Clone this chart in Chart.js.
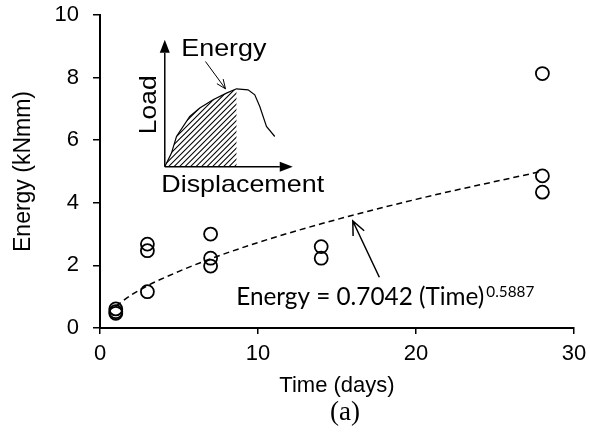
<!DOCTYPE html>
<html>
<head>
<meta charset="utf-8">
<script src="https://cdn.jsdelivr.net/npm/chart.js@4.4.1/dist/chart.umd.min.js"></script>
<style>
  html, body { margin: 0; padding: 0; background: #fff; }
  #wrap { width: 590px; height: 444px; }
</style>
</head>
<body>
<div id="wrap"><canvas id="myChart" width="590" height="444"></canvas></div>
<script>
const timeDays = [1, 1, 1, 3, 3, 3, 7, 7, 7, 14, 14, 28, 28, 28];
const energy = [0.61, 0.52, 0.47, 2.68, 2.47, 1.16, 3.0, 2.23, 1.98, 2.6, 2.23, 8.13, 4.86, 4.34];

// power-law trend line
const trendTime = [1, 2, 3, 5, 7, 10, 14, 20, 28];
const trendEnergy = [0.70, 1.06, 1.35, 1.81, 2.21, 2.73, 3.33, 4.11, 5.01];

const xTicks = [0, 10, 20, 30];
const yTicks = [0, 2, 4, 6, 8, 10];

const eqMain = "Energy = 0.7042 (Time)";
const eqPower = "0.5887";

Chart.defaults.font.family = "'Liberation Sans', Arial, sans-serif";
Chart.defaults.color = "#000";

function openArrow(ctx, x0, y0, x1, y1, len, ang) {
  const a = Math.atan2(y1 - y0, x1 - x0);
  ctx.beginPath();
  ctx.moveTo(x0, y0);
  ctx.lineTo(x1, y1);
  ctx.moveTo(x1 - len * Math.cos(a - ang), y1 - len * Math.sin(a - ang));
  ctx.lineTo(x1, y1);
  ctx.lineTo(x1 - len * Math.cos(a + ang), y1 - len * Math.sin(a + ang));
  ctx.stroke();
}

function filledArrow(ctx, x0, y0, x1, y1, len, half) {
  const a = Math.atan2(y1 - y0, x1 - x0);
  const bx = x1 - len * Math.cos(a), by = y1 - len * Math.sin(a);
  ctx.beginPath();
  ctx.moveTo(x0, y0);
  ctx.lineTo(bx, by);
  ctx.stroke();
  ctx.beginPath();
  ctx.moveTo(x1, y1);
  ctx.lineTo(bx + half * Math.sin(a), by - half * Math.cos(a));
  ctx.lineTo(bx - half * Math.sin(a), by + half * Math.cos(a));
  ctx.closePath();
  ctx.fill();
}

function stretchText(ctx, txt, x, y, sx, rot) {
  ctx.save();
  ctx.translate(x, y);
  if (rot) ctx.rotate(rot);
  ctx.scale(sx, 1);
  ctx.fillText(txt, 0, 0);
  ctx.restore();
}

// sketch of a load-displacement curve, offsets from the inset origin
const sketchCurve = [[0, 0], [6.7, -13.7], [11.7, -30.3], [25, -50.3], [35, -58.7], [48.3, -67],
  [61.7, -73.7], [71.7, -78], [83.3, -77], [90, -72], [95, -60.3], [101.7, -40.3], [110, -30.3]];

const annotations = {
  id: "annotations",
  afterDraw(chart) {
    const ctx = chart.ctx;
    const sx = chart.scales.x, sy = chart.scales.y;
    const X = v => sx.getPixelForValue(v);
    const Y = v => sy.getPixelForValue(v);
    ctx.save();
    ctx.fillStyle = "#000";
    ctx.strokeStyle = "#000";

    // inset
    const ox = X(4.1), oy = Y(5.15);
    ctx.lineWidth = 1.5;
    filledArrow(ctx, ox, oy, ox, oy - 127, 13, 5);
    filledArrow(ctx, ox, oy, ox + 128, oy, 13, 5);

    ctx.lineWidth = 1.2;
    ctx.beginPath();
    sketchCurve.forEach((p, i) => i ? ctx.lineTo(ox + p[0], oy + p[1]) : ctx.moveTo(ox + p[0], oy + p[1]));
    ctx.stroke();

    // hatched area under the curve up to the peak
    ctx.save();
    ctx.beginPath();
    sketchCurve.slice(0, 8).forEach((p, i) => i ? ctx.lineTo(ox + p[0], oy + p[1]) : ctx.moveTo(ox + p[0], oy + p[1]));
    ctx.lineTo(ox + 71.7, oy);
    ctx.closePath();
    ctx.clip();
    ctx.lineWidth = 1.1;
    ctx.beginPath();
    for (let d = -90; d < 90; d += 5.5) {
      ctx.moveTo(ox + d, oy);
      ctx.lineTo(ox + d + 90, oy - 90);
    }
    ctx.stroke();
    ctx.restore();

    ctx.lineWidth = 1;
    openArrow(ctx, ox + 40.7, oy - 105.3, ox + 60.7, oy - 78, 10, 0.4);

    ctx.font = "24px 'Liberation Sans', Arial, sans-serif";
    ctx.textBaseline = "alphabetic";
    ctx.textAlign = "left";
    stretchText(ctx, "Energy", ox + 16.5, oy - 111, 1.12);
    stretchText(ctx, "Displacement", ox - 3.5, oy + 24.7, 1.12);
    ctx.textAlign = "center";
    stretchText(ctx, "Load", ox - 8.5, oy - 62, 1.1, -Math.PI / 2);

    // trend equation and pointer
    ctx.lineWidth = 1.5;
    openArrow(ctx, X(17.68), Y(1.62), X(16.0), Y(3.42), 15, 0.42);

    ctx.textAlign = "left";
    ctx.font = "100px Lato, sans-serif";
    const mainSize = 100 * 248 / ctx.measureText(eqMain).width;
    const powSize = 100 * 48 / ctx.measureText(eqPower).width;
    ctx.font = mainSize.toFixed(1) + "px Lato, sans-serif";
    const ex = X(8.62), ey = Y(0.73);
    ctx.fillText(eqMain, ex, ey);
    const w = ctx.measureText(eqMain).width;
    ctx.font = powSize.toFixed(1) + "px Lato, sans-serif";
    ctx.fillText(eqPower, ex + w + 2, ey - 8.5);

    // panel label
    ctx.textAlign = "center";
    ctx.font = "27px 'Liberation Serif', 'Times New Roman', serif";
    ctx.fillText("(a)", X(15.5), chart.chartArea.bottom + 92);
    ctx.restore();
  }
};

new Chart(document.getElementById("myChart"), {
  type: "scatter",
  data: {
    datasets: [
      {
        label: "Energy",
        data: timeDays.map((t, i) => ({ x: t, y: energy[i] })),
        pointStyle: "circle",
        pointRadius: 6.5,
        pointBorderWidth: 1.8,
        pointBorderColor: "#000",
        pointBackgroundColor: "rgba(0,0,0,0)",
        showLine: false,
        order: 1
      },
      {
        label: "Trend",
        type: "line",
        data: trendTime.map((t, i) => ({ x: t, y: trendEnergy[i] })),
        borderColor: "#000",
        borderWidth: 1.5,
        borderDash: [6, 4],
        pointRadius: 0,
        cubicInterpolationMode: "monotone",
        fill: false,
        order: 2
      }
    ]
  },
  options: {
    responsive: false,
    animation: false,
    devicePixelRatio: 1,
    layout: { padding: { top: 15, right: 16, left: 0, bottom: 0 } },
    plugins: { legend: { display: false }, tooltip: { enabled: false } },
    scales: {
      x: {
        type: "linear",
        min: 0,
        max: 30,
        afterBuildTicks: s => { s.ticks = xTicks.map(v => ({ value: v })); },
        afterFit: s => { s.height = 116; s.paddingLeft = 0; s.paddingRight = 0; },
        ticks: { font: { size: 22 }, padding: 7, maxRotation: 0 },
        grid: { drawOnChartArea: false, drawTicks: true, tickLength: 6, color: "#000", lineWidth: 1.5 },
        border: { color: "#000", width: 2 },
        title: { display: true, text: "Time (days)", font: { size: 22 }, padding: { bottom: 45 } }
      },
      y: {
        min: 0,
        max: 10,
        afterBuildTicks: s => { s.ticks = yTicks.map(v => ({ value: v })); },
        afterFit: s => { s.width = 100; s.paddingTop = 0; s.paddingBottom = 0; },
        ticks: { font: { size: 22 }, padding: 14 },
        grid: { drawOnChartArea: false, drawTicks: true, tickLength: 7, color: "#000", lineWidth: 1.5 },
        border: { color: "#000", width: 2 },
        title: { display: true, text: "Energy (kNmm)", font: { size: 23 }, padding: { top: 10 } }
      }
    }
  },
  plugins: [annotations]
});
</script>
</body>
</html>
